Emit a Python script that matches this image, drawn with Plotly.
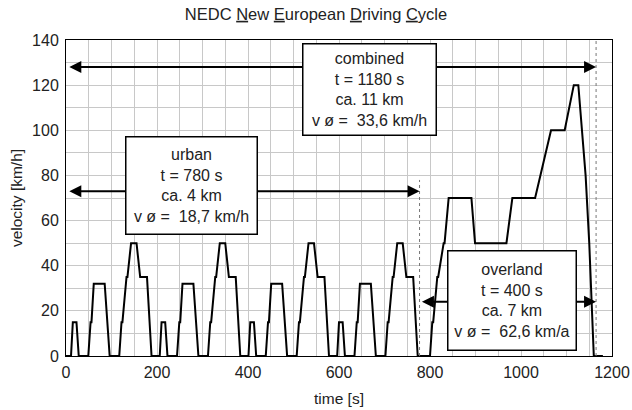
import plotly.graph_objects as go

# ECE-15 urban cycle (repeated 4 times), breakpoints in s and km/h
ece_t = [0, 11, 15, 23, 28, 49, 54, 56, 61, 85, 96, 117, 122, 124, 133, 135, 143, 155, 163, 176, 178, 188, 195]
ece_v = [0, 0, 15, 15, 0, 0, 15, 15, 32, 32, 0, 0, 15, 15, 35, 35, 50, 50, 35, 35, 35, 0, 0]
ece_repeats = 4

# EUDC extra-urban cycle, starts after the urban part
eudc_t = [0, 20, 25, 27, 36, 38, 50, 52, 61, 111, 119, 188, 201, 251, 286, 316, 336, 346, 362, 370, 380, 400]
eudc_v = [0, 0, 15, 15, 35, 35, 50, 50, 70, 70, 50, 50, 70, 70, 100, 100, 120, 120, 80, 50, 0, 0]

# section labels
abschnitte = ["combined", "urban", "overland"]
dauer = ["t = 1180 s", "t = 780 s", "t = 400 s"]
strecke = ["ca. 11 km", "ca. 4 km", "ca. 7 km"]
mittel = ["v ø =\u00a0\u00a033,6 km/h", "v ø =\u00a0\u00a018,7 km/h", "v ø =\u00a0\u00a062,6 km/a"]

# build the full time series
zeit, geschw = [], []
for k in range(ece_repeats):
    start = 0 if k == 0 else 1
    zeit += [t + 195 * k for t in ece_t[start:]]
    geschw += ece_v[start:]
zeit += [t + 195 * ece_repeats for t in eudc_t[1:]]
geschw += eudc_v[1:]

schrift = "Liberation Sans, Arial, sans-serif"

fig = go.Figure()
fig.add_trace(go.Scatter(
    x=zeit, y=geschw, mode="lines",
    line=dict(color="black", width=2),
    showlegend=False, hoverinfo="skip"
))

# dotted section limits
fig.add_shape(type="line", x0=777, x1=777, y0=0, y1=78,
              line=dict(color="#777777", width=1, dash="dot"))
fig.add_shape(type="line", x0=1165, x1=1165, y0=0, y1=140,
              line=dict(color="#777777", width=1, dash="dot"))

# double arrows
pfeile = [(4, 1165, 128), (4, 777, 73), (779, 1165, 24)]
annots = []
for x0, x1, y in pfeile:
    annots.append(dict(
        x=x1, y=y, ax=x0, ay=y, xref="x", yref="y", axref="x", ayref="y",
        text="", showarrow=True, arrowhead=2, arrowside="end+start",
        arrowsize=1.2, arrowwidth=2, arrowcolor="black",
        standoff=0, startstandoff=0
    ))

# text boxes
boxen = [(668, 118, 130, 88), (275, 75.5, 128, 94), (981, 24.8, 125, 96)]
for i, (bx, by, bw, bh) in enumerate(boxen):
    annots.append(dict(
        x=bx, y=by, xref="x", yref="y", showarrow=False,
        text="<br>".join([abschnitte[i], dauer[i], strecke[i], mittel[i]]),
        font=dict(family=schrift, size=16, color="#222222"),
        bgcolor="white", bordercolor="black", borderwidth=1.5,
        borderpad=1, width=bw, height=bh, align="center", valign="middle"
    ))

fig.update_layout(
    title=dict(
        text="NEDC <u>N</u>ew <u>E</u>uropean <u>D</u>riving <u>C</u>ycle",
        x=0.5, xanchor="center", y=1 - 14 / 410, yanchor="middle",
        font=dict(family=schrift, size=16.5, color="#222222")
    ),
    width=632, height=410,
    margin=dict(l=66, r=20, t=40, b=54),
    paper_bgcolor="white", plot_bgcolor="white",
    font=dict(family=schrift, size=16, color="#222222"),
    annotations=annots,
    xaxis=dict(
        range=[0, 1200], dtick=200, showgrid=True, gridcolor="#c8c8c8",
        minor=dict(dtick=50, showgrid=True, gridcolor="#c8c8c8"),
        showline=True, linecolor="black", linewidth=1, mirror=True,
        zeroline=False, ticks="", ticklabelstandoff=2, automargin=False,
        tickfont=dict(size=16),
        title=dict(text="time [s]", standoff=12, font=dict(size=15.5))
    ),
    yaxis=dict(
        range=[0, 140], dtick=20, showgrid=True, gridcolor="#c8c8c8",
        minor=dict(dtick=10, showgrid=True, gridcolor="#c8c8c8"),
        showline=True, linecolor="black", linewidth=1, mirror=True,
        zeroline=False, ticks="", automargin=False, ticklabelstandoff=3,
        tickfont=dict(size=16),
        title=dict(text="velocity [km/h]", standoff=5, font=dict(size=15.5))
    ),
)

# drop the default page margin so the figure fills the window exactly
fig.write_html(
    "out.html",
    config={"displayModeBar": False},
    post_script="document.body.style.margin='0';document.body.style.overflow='hidden';"
)
